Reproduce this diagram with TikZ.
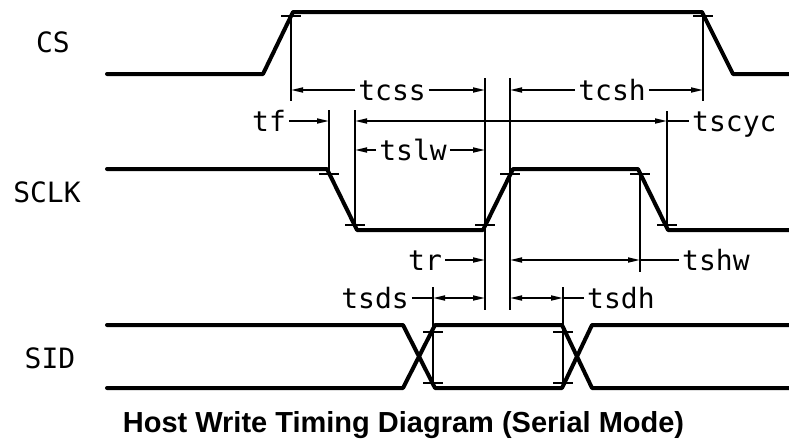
\documentclass[tikz,border=0pt]{standalone}
\usepackage{fontspec}
\newfontfamily\cadfont{DejaVu Sans Mono}
\newfontfamily\titlefont{Liberation Sans}
\usetikzlibrary{arrows.meta}
\begin{document}
\begin{tikzpicture}[x=1pt,y=-1pt,
  sig/.style={line width=4pt, line cap=round, line join=round},
  guide/.style={line width=1.8pt},
  dim/.style={line width=1.8pt},
  tk/.style={line width=1.5pt},
  tipr/.style={-{Triangle[length=12pt,width=5pt]}},
  tipl/.style={{Triangle[length=12pt,width=5pt]}-},
  tipb/.style={{Triangle[length=12pt,width=5pt]}-{Triangle[length=12pt,width=5pt]}},
  lbl/.style={font=\cadfont\fontsize{28}{28}\selectfont, inner ysep=0pt, inner xsep=3pt,
              text height=20pt, text depth=0pt, anchor=center},
  ttl/.style={font=\titlefont\bfseries\fontsize{29}{29}\selectfont, inner sep=0pt, anchor=base}
]
\useasboundingbox (0,0) rectangle (789,439);

% signal names
\node[lbl] (cs) at (53,42) {CS};
\node[lbl] (sclk) at (47,192) {SCLK};
\node[lbl] (sid) at (50,358) {SID};

% waveforms
\draw[sig] (107,74) -- (263,74) -- (293,12) -- (702,12) -- (733,74) -- (795,74);
\draw[sig] (107,169) -- (327,169) -- (357,230) -- (483,230) -- (513,169) -- (638,169) -- (668,230) -- (795,230);
\draw[sig] (107,325) -- (403,325) -- (435,388) -- (562,388) -- (592,325) -- (795,325);
\draw[sig] (107,388) -- (403,388) -- (435,325) -- (562,325) -- (592,388) -- (795,388);

% reference guides (top points)
\coordinate (gA) at (291,16);
\coordinate (gB) at (703,16);
\coordinate (gC) at (485,78);
\coordinate (gD) at (510,78);
\coordinate (gE) at (329,110);
\coordinate (gF) at (355,110);
\coordinate (gG) at (667,111);
\coordinate (gH) at (640,174);
\coordinate (gI) at (433,287);
\coordinate (gJ) at (563,287);

\draw[guide] (gA) -- ++(0,85);
\draw[guide] (gB) -- ++(0,85);
\draw[guide] (gC) -- (485,310);
\draw[guide] (gD) -- (510,310);
\draw[guide] (gE) -- (329,174);
\draw[guide] (gF) -- (355,225);
\draw[guide] (gG) -- (667,225);
\draw[guide] (gH) -- (640,272);
\draw[guide] (gI) -- (433,383);
\draw[guide] (gJ) -- (563,383);

% ticks
\foreach \p in {(291,16),(703,16),(329,174),(355,225),(485,225),(510,174),(640,174),(667,225),(433,332),(433,383),(563,332),(563,383)}
  \draw[tk] \p ++(-10,0) -- ++(20,0);

% tcss / tcsh
\node[lbl] (tcss) at (392,90) {tcss};
\draw[dim,tipr] (tcss.west) -- (tcss.west -| gA);
\draw[dim,tipr] (tcss.east) -- (tcss.east -| gC);
\node[lbl] (tcsh) at (612,90) {tcsh};
\draw[dim,tipr] (tcsh.west) -- (tcsh.west -| gD);
\draw[dim,tipr] (tcsh.east) -- (tcsh.east -| gB);

% tf / tscyc
\node[lbl] (tf) at (269,121) {tf};
\draw[dim,tipr] (tf.east) -- (tf.east -| gE);
\node[lbl,anchor=west] (tscyc) at (689,121) {tscyc};
\draw[dim,tipb] (gF |- tscyc.west) -- (gG |- tscyc.west);
\draw[dim] (gG |- tscyc.west) -- (tscyc.west);

% tslw
\node[lbl] (tslw) at (413,150) {tslw};
\draw[dim,tipr] (tslw.west) -- (tslw.west -| gF);
\draw[dim,tipr] (tslw.east) -- (tslw.east -| gC);

% tr / tshw
\node[lbl] (tr) at (425,260) {tr};
\draw[dim,tipr] (tr.east) -- (tr.east -| gC);
\node[lbl,anchor=west] (tshw) at (679,260) {tshw};
\draw[dim,tipb] (gD |- tshw.west) -- (gH |- tshw.west);
\draw[dim] (gH |- tshw.west) -- (tshw.west);

% tsds / tsdh
\node[lbl] (tsds) at (375,298) {tsds};
\draw[dim] (tsds.east) -- (tsds.east -| gI);
\draw[dim,tipb] (gI |- tsds.east) -- (gC |- tsds.east);
\node[lbl,anchor=west] (tsdh) at (584,298) {tsdh};
\draw[dim,tipb] (gD |- tsdh.west) -- (gJ |- tsdh.west);
\draw[dim] (gJ |- tsdh.west) -- (tsdh.west);

% title
\node[ttl] (title) at (403.5,432) {Host Write Timing Diagram (Serial Mode)};
\end{tikzpicture}
\end{document}
